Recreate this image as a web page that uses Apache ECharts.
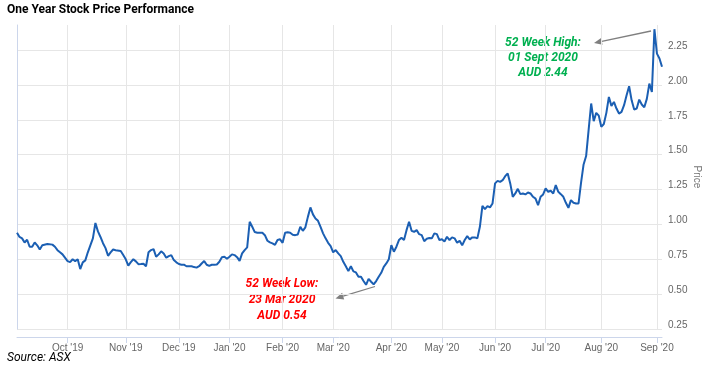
<!DOCTYPE html>
<html>
<head>
<meta charset="utf-8">
<script src="https://cdn.jsdelivr.net/npm/echarts@6/dist/echarts.min.js"></script>
<style>
html, body { margin: 0; padding: 0; background: #fff; }
#chart { width: 710px; height: 376px; }
</style>
</head>
<body>
<div id="chart"></div>
<script>
// trading session number (0 = first session shown, early Sep 2019) and price in AUD
const tradingDay = [
  0, 1, 2, 3, 4, 5, 6, 7, 8, 9, 10, 12, 14, 15, 16, 17, 18, 20, 21, 22,
  23, 24, 25, 26, 27, 28, 29, 30, 31, 32, 33, 34, 35, 36, 37, 38, 39, 41, 42, 43,
  44, 45, 46, 47, 48, 49, 50, 51, 52, 53, 54, 55, 56, 57, 58, 59, 60, 61, 62, 63,
  64, 65, 66, 67, 69, 70, 71, 72, 73, 74, 75, 76, 77, 78, 79, 80, 81, 82, 83, 84,
  85, 86, 87, 88, 89, 90, 91, 92, 93, 94, 95, 97, 98, 99, 100, 101, 102, 103, 104, 105,
  106, 107, 108, 109, 110, 111, 112, 113, 114, 115, 116, 117, 118, 119, 120, 121, 122, 123, 124, 125,
  126, 127, 128, 129, 130, 131, 132, 133, 134, 135, 136, 137, 138, 139, 140, 141, 142, 143, 144, 145,
  146, 147, 148, 149, 150, 151, 152, 153, 154, 155, 156, 157, 158, 159, 160, 161, 162, 163, 164, 165,
  166, 167, 168, 169, 170, 171, 172, 173, 174, 175, 176, 177, 178, 179, 180, 181, 182, 183, 184, 185,
  186, 187, 188, 189, 190, 191, 192, 193, 194, 195, 196, 197, 198, 199, 200, 201, 202, 203, 204, 205,
  206, 207, 208, 209, 210, 211, 212, 213, 214, 215, 216, 217, 218, 219, 220, 221, 222, 223, 224, 225,
  226, 227, 228, 229, 230, 231, 232, 233, 234, 235, 236, 237, 238, 239, 240, 241, 242, 243, 244, 245,
  246, 247, 248, 249, 250, 251, 252, 253, 254, 255
];
const price = [
  0.94, 0.91, 0.90, 0.87, 0.89, 0.84, 0.84, 0.87, 0.85, 0.82, 0.85, 0.86, 0.855, 0.84, 0.815, 0.80, 0.785, 0.737, 0.73, 0.75,
  0.737, 0.75, 0.68, 0.728, 0.742, 0.80, 0.85, 0.90, 1.01, 0.95, 0.91, 0.865, 0.83, 0.775, 0.80, 0.82, 0.815, 0.81, 0.78, 0.75,
  0.705, 0.73, 0.75, 0.735, 0.715, 0.716, 0.718, 0.70, 0.80, 0.816, 0.823, 0.768, 0.785, 0.807, 0.792, 0.761, 0.773, 0.78, 0.744, 0.728,
  0.716, 0.711, 0.711, 0.70, 0.70, 0.694, 0.69, 0.70, 0.72, 0.737, 0.711, 0.703, 0.711, 0.711, 0.713, 0.732, 0.764, 0.768, 0.754, 0.768,
  0.785, 0.78, 0.765, 0.739, 0.792, 0.816, 0.835, 1.019, 0.983, 0.945, 0.94, 0.94, 0.923, 0.883, 0.871, 0.864, 0.854, 0.888, 0.893, 0.868,
  0.94, 0.943, 0.94, 0.926, 0.923, 0.928, 0.983, 0.954, 0.979, 1.054, 1.122, 1.072, 1.043, 1.026, 0.983, 0.936, 0.90, 0.868, 0.845, 0.80,
  0.816, 0.792, 0.773, 0.732, 0.70, 0.665, 0.70, 0.663, 0.656, 0.625, 0.625, 0.594, 0.567, 0.61, 0.589, 0.57, 0.594, 0.625, 0.653, 0.696,
  0.72, 0.75, 0.852, 0.804, 0.84, 0.888, 0.904, 0.888, 0.959, 1.019, 0.954, 0.947, 0.959, 0.93, 0.923, 0.88, 0.897, 0.902, 0.90, 0.936,
  0.93, 0.888, 0.893, 0.878, 0.911, 0.888, 0.907, 0.90, 0.868, 0.883, 0.85, 0.888, 0.916, 0.893, 0.907, 0.907, 0.90, 0.983, 1.133, 1.11,
  1.131, 1.122, 1.15, 1.294, 1.312, 1.305, 1.317, 1.346, 1.365, 1.294, 1.198, 1.222, 1.255, 1.217, 1.222, 1.215, 1.229, 1.222, 1.198, 1.185,
  1.138, 1.198, 1.215, 1.258, 1.234, 1.241, 1.222, 1.282, 1.234, 1.217, 1.198, 1.155, 1.119, 1.174, 1.155, 1.15, 1.15, 1.30, 1.43, 1.49,
  1.68, 1.867, 1.74, 1.80, 1.78, 1.70, 1.72, 1.80, 1.914, 1.85, 1.878, 1.831, 1.795, 1.807, 1.855, 1.926, 1.991, 1.89, 1.824, 1.831,
  1.895, 1.86, 1.84, 1.90, 2.01, 1.95, 2.40, 2.225, 2.19, 2.13
];

// first session of each month -> x axis ticks
const monthStart = [20, 43, 64, 84, 105, 125, 148, 168, 189, 209, 231, 253];
const monthLabels = ["Oct '19", "Nov '19", "Dec '19", "Jan '20", "Feb '20", "Mar '20",
  "Apr '20", "May '20", "Jun '20", "Jul '20", "Aug '20", "Sep '20"];

const lowNote = ['52 Week Low:', '23 Mar 2020', 'AUD 0.54'];
const highNote = ['52 Week High:', '01 Sept 2020', 'AUD 2.44'];

const chart = echarts.init(document.getElementById('chart'));

// little callout arrow, head at (x2, y2)
function arrow(x1, y1, x2, y2) {
  const a = Math.atan2(y1 - y2, x1 - x2);
  const len = 8, w = 3.5;
  const bx = x2 + Math.cos(a) * len, by = y2 + Math.sin(a) * len;
  const px = -Math.sin(a) * w, py = Math.cos(a) * w;
  return [
    { type: 'line', silent: true, shape: { x1: x1, y1: y1, x2: bx, y2: by },
      style: { stroke: '#7f7f7f', lineWidth: 1.3 } },
    { type: 'polygon', silent: true,
      shape: { points: [[x2, y2], [bx + px, by + py], [bx - px, by - py]] },
      style: { fill: '#7f7f7f' } }
  ];
}

const noteFont = 'italic bold 12px Roboto, "Liberation Sans", sans-serif';

const option = {
  animation: false,
  title: {
    text: 'One Year Stock Price Performance',
    left: 7, top: 4, padding: 0,
    textStyle: { fontSize: 12, fontWeight: 'bold', color: '#000', fontFamily: 'Roboto, "Liberation Sans", sans-serif' }
  },
  grid: { left: 17, right: 48, top: 25, bottom: 47, containLabel: false, outerBoundsMode: 'none' },
  xAxis: {
    type: 'value',
    min: 0,
    max: 255,
    offset: 8,
    axisLine: { show: true, lineStyle: { color: '#ccd6eb' } },
    axisTick: { show: true, length: 6, customValues: monthStart, lineStyle: { color: '#ccd6eb' } },
    axisLabel: {
      customValues: monthStart,
      color: '#666', fontSize: 10, margin: 6,
      fontFamily: '"Liberation Sans", Arial, sans-serif',
      formatter: v => monthLabels[monthStart.indexOf(v)] || ''
    },
    splitLine: { show: true, lineStyle: { color: '#e6e6e6' } }
  },
  yAxis: {
    type: 'value',
    position: 'right',
    min: 0.25,
    max: 2.43,
    interval: 0.25,
    name: 'Price',
    nameLocation: 'middle',
    nameRotate: -90,
    nameGap: 30,
    nameMoveOverlap: false,
    nameTextStyle: { color: '#777', fontSize: 10, fontFamily: '"Liberation Sans", Arial, sans-serif' },
    axisLine: { show: true, lineStyle: { color: '#ccd6eb' } },
    axisTick: { show: false },
    axisLabel: {
      color: '#666', fontSize: 10, margin: 6, showMaxLabel: false,
      verticalAlign: 'bottom', lineHeight: 8,
      fontFamily: '"Liberation Sans", Arial, sans-serif',
      formatter: v => v.toFixed(2)
    },
    splitLine: { show: true, showMaxLine: false, lineStyle: { color: '#e6e6e6' } }
  },
  series: [{
    type: 'line',
    data: tradingDay.map((d, i) => [d, price[i]]),
    showSymbol: false,
    lineStyle: { color: '#1b5fb3', width: 2 },
    itemStyle: { color: '#1b5fb3' },
    emphasis: { disabled: true }
  }],
  graphic: [
    { type: 'text', x: 7, y: 358, silent: true,
      style: { text: 'Source: ASX', fill: '#000', font: 'italic 12px Roboto, "Liberation Sans", sans-serif',
        align: 'left', verticalAlign: 'middle' } },
    { type: 'text', x: 282, y: 300, silent: true,
      style: { text: lowNote.join('\n'), fill: '#ff0000', font: noteFont, lineHeight: 16,
        align: 'center', verticalAlign: 'middle' } },
    { type: 'text', x: 543, y: 58, silent: true,
      style: { text: highNote.join('\n'), fill: '#00b050', font: noteFont, lineHeight: 15,
        align: 'center', verticalAlign: 'middle' } },
    ...arrow(375, 286.5, 335.5, 298.5),
    ...arrow(651, 31, 594, 43)
  ]
};

chart.setOption(option);
</script>
</body>
</html>
